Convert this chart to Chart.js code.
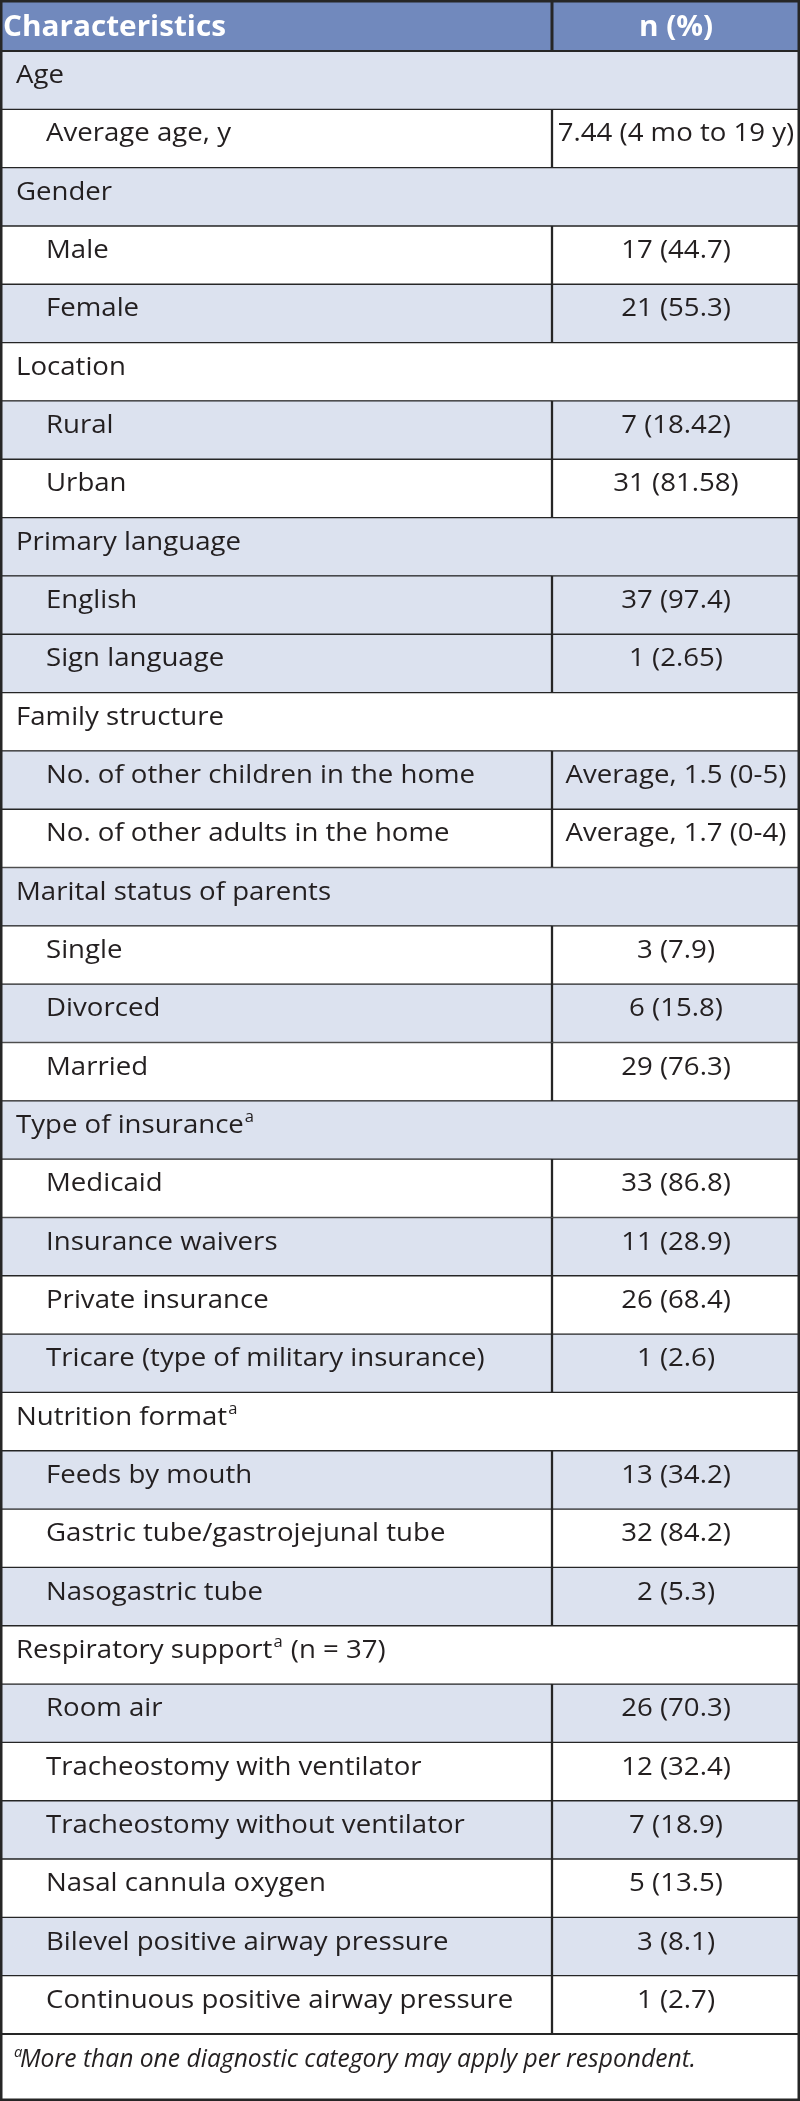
<!DOCTYPE html>
<html>
<head>
<meta charset="utf-8">
<script src="https://cdn.jsdelivr.net/npm/chart.js@4.4.1/dist/chart.umd.min.js"></script>
<style>
  html, body { margin: 0; padding: 0; background: #fff; }
  canvas { display: block; }
</style>
</head>
<body>
<canvas id="table" width="800" height="2101"></canvas>
<script>
// table content
const headers = ['Characteristics', 'n (%)'];

const rowLabels = [
  'Age', 'Average age, y',
  'Gender', 'Male', 'Female',
  'Location', 'Rural', 'Urban',
  'Primary language', 'English', 'Sign language',
  'Family structure', 'No. of other children in the home', 'No. of other adults in the home',
  'Marital status of parents', 'Single', 'Divorced', 'Married',
  'Type of insurance^a', 'Medicaid', 'Insurance waivers', 'Private insurance', 'Tricare (type of military insurance)',
  'Nutrition format^a', 'Feeds by mouth', 'Gastric tube/gastrojejunal tube', 'Nasogastric tube',
  'Respiratory support^a (n = 37)', 'Room air', 'Tracheostomy with ventilator', 'Tracheostomy without ventilator',
  'Nasal cannula oxygen', 'Bilevel positive airway pressure', 'Continuous positive airway pressure'
];

// null = section heading row
const rowValues = [
  null, '7.44 (4 mo to 19 y)',
  null, '17 (44.7)', '21 (55.3)',
  null, '7 (18.42)', '31 (81.58)',
  null, '37 (97.4)', '1 (2.65)',
  null, 'Average, 1.5 (0-5)', 'Average, 1.7 (0-4)',
  null, '3 (7.9)', '6 (15.8)', '29 (76.3)',
  null, '33 (86.8)', '11 (28.9)', '26 (68.4)', '1 (2.6)',
  null, '13 (34.2)', '32 (84.2)', '2 (5.3)',
  null, '26 (70.3)', '12 (32.4)', '7 (18.9)', '5 (13.5)', '3 (8.1)', '1 (2.7)'
];

const footnote = 'More than one diagnostic category may apply per respondent.';

// styling
const shadedRows = [0, 2, 4, 6, 8, 9, 10, 12, 14, 16, 18, 20, 22, 24, 26, 28, 30, 32];
const HEADER_BG = '#7189bd';
const SHADE = '#dce2ef';
const INK = '#231f20';
const LINE = '#262626';
const COL_SPLIT = 0.69;   // divider between the two columns, as share of width
const HEADER_H = 51;
const FOOT_H = 67;
const FONT = '"Open Sans", "Noto Sans", sans-serif';
const BODY_PX = 26, HEAD_PX = 28, FOOT_PX = 25;

// the original face is narrower than Open Sans: squeeze text horizontally
// so a few sample strings come out at the widths seen in the original
const probe = document.createElement('canvas').getContext('2d');
function squeeze(style, px, samples) {
  probe.font = style + ' ' + px + 'px ' + FONT;
  let got = 0, want = 0;
  samples.forEach(([t, w]) => { got += probe.measureText(t).width; want += w; });
  return want / got;
}
const bodyK = squeeze('normal', BODY_PX, [
  ['Continuous positive airway pressure', 462],
  ['Marital status of parents', 345],
  ['No. of other adults in the h', 354],
  ['Divorced', 109],
  ['Married', 97],
  ['7.44 (4 mo to 19 y)', 214]
]);
const headK = squeeze('bold', HEAD_PX, [['Characteristics', 223]]);
const footK = squeeze('italic', FOOT_PX, [[footnote, 676]]);

const isSection = rowValues.map(v => v === null);
const fills = rowLabels.map((_, i) => shadedRows.includes(i) ? SHADE : '#ffffff');

function put(ctx, text, x, y, font, k, align) {
  ctx.save();
  ctx.font = font;
  ctx.textAlign = align || 'left';
  ctx.translate(x, y);
  ctx.scale(k, 1);
  ctx.fillText(text, 0, 0);
  const w = ctx.measureText(text).width * k;
  ctx.restore();
  return w;
}

function drawLabel(ctx, text, x, y) {
  // "^a" marks a superscript a
  const parts = text.split('^a');
  const big = BODY_PX + 'px ' + FONT, small = (BODY_PX * 0.6) + 'px ' + FONT;
  let cx = x + put(ctx, parts[0], x, y, big, bodyK);
  if (parts.length > 1) {
    cx += 1;
    cx += put(ctx, 'a', cx, y - BODY_PX * 0.42, small, bodyK) + 1;
    put(ctx, parts[1], cx, y, big, bodyK);
  }
}

const tablePlugin = {
  id: 'tableText',
  afterDatasetsDraw(chart) {
    const ctx = chart.ctx;
    const xs = chart.scales.x, ys = chart.scales.y;
    const ca = chart.chartArea;
    const W = chart.width, H = chart.height;
    const left = xs.getPixelForValue(0), right = xs.getPixelForValue(1);
    const split = xs.getPixelForValue(COL_SPLIT);
    const valX = xs.getPixelForValue((COL_SPLIT + 1) / 2);
    ctx.save();
    ctx.textBaseline = 'alphabetic';

    // header row
    ctx.fillStyle = HEADER_BG;
    ctx.fillRect(left, 0, right - left, ca.top);
    ctx.fillStyle = LINE;
    ctx.fillRect(split - 1.5, 0, 3, ca.top);
    ctx.fillRect(left, ca.top - 1, right - left, 2);
    ctx.fillStyle = '#ffffff';
    const headFont = 'bold ' + HEAD_PX + 'px ' + FONT;
    put(ctx, headers[0], left + 3, 36, headFont, headK, 'left');
    put(ctx, headers[1], valX, 36, headFont, headK, 'center');

    // body rows
    ctx.fillStyle = INK;
    rowLabels.forEach((label, i) => {
      const base = ys.getPixelForValue(i) + 3;
      drawLabel(ctx, label, left + (isSection[i] ? 16 : 46), base);
      if (!isSection[i]) {
        put(ctx, rowValues[i], valX, base, BODY_PX + 'px ' + FONT, bodyK, 'center');
      }
    });

    // footnote
    ctx.fillStyle = LINE;
    ctx.fillRect(left, ca.bottom - 1, right - left, 2);
    ctx.fillStyle = INK;
    const fy = ca.bottom + 33;
    put(ctx, 'a', left + 14, fy - FOOT_PX * 0.42, 'italic ' + (FOOT_PX * 0.6) + 'px ' + FONT, footK);
    put(ctx, footnote, left + 20, fy, 'italic ' + FOOT_PX + 'px ' + FONT, footK);

    // outer frame
    ctx.strokeStyle = LINE;
    ctx.lineWidth = 2.5;
    ctx.strokeRect(1.25, 1.25, W - 2.5, H - 2.5);
    ctx.restore();
  }
};

new Chart(document.getElementById('table'), {
  type: 'bar',
  data: {
    labels: rowLabels,
    datasets: [
      {
        label: headers[0],
        data: rowLabels.map((_, i) => isSection[i] ? [0, 1] : [0, COL_SPLIT]),
        backgroundColor: fills,
        borderColor: LINE,
        borderWidth: rowLabels.map((_, i) => isSection[i]
          ? { top: 1, bottom: 1, left: 1, right: 1 }
          : { top: 1, bottom: 1, left: 1, right: 1.5 }),
        borderSkipped: false
      },
      {
        label: headers[1],
        data: rowValues.map(v => v === null ? null : [COL_SPLIT, 1]),
        backgroundColor: fills,
        borderColor: LINE,
        borderWidth: { top: 1, bottom: 1, left: 1.5, right: 1 },
        borderSkipped: false
      }
    ]
  },
  options: {
    indexAxis: 'y',
    responsive: false,
    animation: false,
    devicePixelRatio: 1,
    events: [],
    grouped: false,
    barPercentage: 1,
    categoryPercentage: 1,
    layout: { padding: { top: HEADER_H, bottom: FOOT_H, left: 0, right: 0 } },
    scales: {
      x: { type: 'linear', min: 0, max: 1, display: false },
      y: { type: 'category', display: false, offset: true }
    },
    plugins: {
      legend: { display: false },
      tooltip: { enabled: false }
    }
  },
  plugins: [tablePlugin]
});
</script>
</body>
</html>
